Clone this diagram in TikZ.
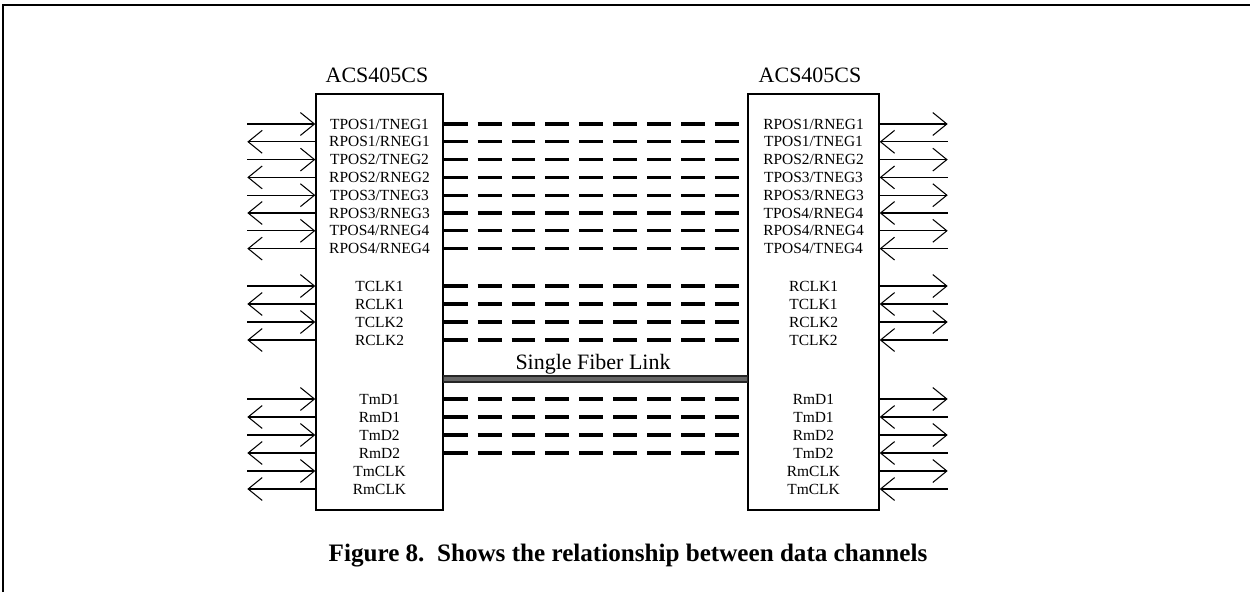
\documentclass[tikz,border=0pt]{standalone}
\usepackage{fontspec}
\setmainfont{Liberation Serif}
\usetikzlibrary{arrows.meta}

\begin{document}
\begin{tikzpicture}[x=0.02cm, y=-0.02cm,
	>={Straight Barb[length=8pt,width=13pt]},
	sig/.style={line width=0.6pt},
	pin/.style={font=\fontsize{8.8}{10}\selectfont, inner sep=0pt},
	chip/.style={draw, line width=0.8pt, inner sep=0pt, minimum height=8.32cm},
	link/.style={line width=1.8pt, dash pattern=on 13.6pt off 5.7pt},
	big/.style={font=\fontsize{12.5}{14}\selectfont, anchor=base}]
	\useasboundingbox (0,0) rectangle (1250,592);
	\draw [line width=1.1pt] (3,592) -- (3,5) -- (1250,5);
	% the two chips
	\node [chip, minimum width=2.54cm] (lbox) at (379.5,302) {};
	\node [chip, minimum width=2.62cm] (rbox) at (813.5,302) {};
	\node [big] (ltitle) at (377,82) {ACS405CS};
	\node [big] (rtitle) at (810,82) {ACS405CS};
	% pins, arrows and links
	\foreach \y/\a/\b [count=\i] in {124/{TPOS1/TNEG1}/{RPOS1/RNEG1},
		141.8/{RPOS1/RNEG1}/{TPOS1/TNEG1}, 159.6/{TPOS2/TNEG2}/{RPOS2/RNEG2},
		177.4/{RPOS2/RNEG2}/{TPOS3/TNEG3}, 195.2/{TPOS3/TNEG3}/{RPOS3/RNEG3},
		213/{RPOS3/RNEG3}/{TPOS4/RNEG4}, 230.8/{TPOS4/RNEG4}/{RPOS4/RNEG4},
		248.6/{RPOS4/RNEG4}/{TPOS4/TNEG4},
		286/TCLK1/RCLK1, 304/RCLK1/TCLK1, 322/TCLK2/RCLK2, 340/RCLK2/TCLK2,
		399/TmD1/RmD1, 417/RmD1/TmD1, 435/TmD2/RmD2, 453/RmD2/TmD2,
		471/TmCLK/RmCLK, 489/RmCLK/TmCLK} {
		\node [pin] (l\i) at (379.5,\y) {\a};
		\node [pin] (r\i) at (813.5,\y) {\b};
		\ifodd\i
			\draw [sig,<-] (lbox.west |- l\i) -- ++(-68,0);
			\draw [sig,->] (rbox.east |- r\i) -- ++(68,0);
		\else
			\draw [sig,->] (lbox.west |- l\i) -- ++(-68,0);
			\draw [sig,<-] (rbox.east |- r\i) -- ++(68,0);
		\fi
		\ifnum\i<17
			\draw [link] (lbox.east |- l\i) -- (rbox.west |- r\i);
		\fi
	}
	% fiber
	\draw [fill=black!60, draw=black!85, line width=0.6pt] (lbox.east |- 0,376) rectangle (rbox.west |- 0,382);
	\node [big] (fiber) at (593,369) {Single Fiber Link};
	\node [font=\fontsize{14.3}{16}\selectfont\bfseries, anchor=base] (cap) at (628,561) {Figure 8.\ \ Shows the relationship between data channels};
\end{tikzpicture}
\end{document}
